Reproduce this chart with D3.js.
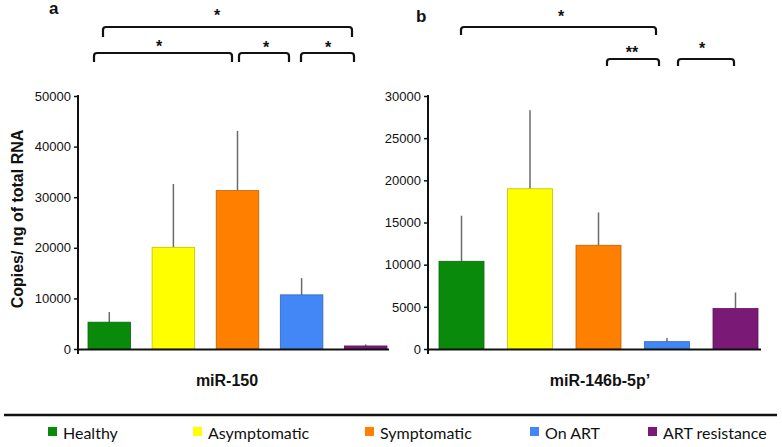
<!DOCTYPE html>
<html><head><meta charset="utf-8">
<script src="https://cdn.jsdelivr.net/npm/d3@7"></script>
<style>body{margin:0;background:#fff}svg{display:block}</style>
</head><body>
<svg id="c" width="782" height="447"></svg>
<script>
const groups = ["Healthy", "Asymptomatic", "Symptomatic", "On ART", "ART resistance"];
const colors = ["#0a8a0a", "#ffff00", "#ff7f00", "#4287f5", "#7a1a76"];
const mir150Mean = [5300, 20100, 31300, 10700, 600];
const mir150Upper = [7300, 32600, 43100, 14000, 900];
const mir146Mean = [10400, 19000, 12300, 870, 4800];
const mir146Upper = [15800, 28300, 16200, 1300, 6700];
const ticks150 = [0, 10000, 20000, 30000, 40000, 50000];
const ticks146 = [0, 5000, 10000, 15000, 20000, 25000, 30000];

const FONT = "'Liberation Sans', Arial, Helvetica, sans-serif";
const svg = d3.select("#c");

function panel(o) {
  const y = d3.scaleLinear().domain([0, o.max]).range([349, 96]);
  const x = d3.scaleBand().domain(groups).range(o.barRange).paddingInner(o.pad).paddingOuter(0);
  const g = svg.append("g");
  g.selectAll(".err").data(groups).join("line")
    .attr("x1", d => x(d) + x.bandwidth() / 2).attr("x2", d => x(d) + x.bandwidth() / 2)
    .attr("y1", (d, i) => y(o.mean[i])).attr("y2", (d, i) => y(o.upper[i]))
    .attr("stroke", "#6b6b6b").attr("stroke-width", 1.5);
  g.selectAll(".bar").data(groups).join("rect")
    .attr("x", d => x(d)).attr("width", x.bandwidth())
    .attr("y", (d, i) => y(o.mean[i])).attr("height", (d, i) => y(0) - y(o.mean[i]))
    .attr("fill", (d, i) => colors[i])
    .attr("stroke", (d, i) => d3.color(colors[i]).darker(0.8)).attr("stroke-width", 0.8);
  const ax = d3.axisLeft(y).tickValues(o.ticks).tickSize(4).tickPadding(3).tickFormat(d3.format("d"));
  const ag = g.append("g").attr("transform", `translate(${o.axisX},0)`).call(ax);
  ag.select(".domain").remove();
  ag.selectAll(".tick line").attr("stroke", "#111").attr("stroke-width", 1.5);
  ag.selectAll("text").style("font-family", FONT)
    .style("font-size", "13px").attr("fill", "#111");
  g.append("line").attr("x1", o.axisX).attr("x2", o.axisX).attr("y1", 95).attr("y2", 354)
    .attr("stroke", "#111").attr("stroke-width", 2);
  g.append("line").attr("x1", o.axisX).attr("x2", o.axisEnd).attr("y1", 349.5).attr("y2", 349.5)
    .attr("stroke", "#111").attr("stroke-width", 2);
  g.append("text").attr("x", o.labelX).attr("y", 386).attr("text-anchor", "middle")
    .style("font-family", FONT).attr("font-weight", "bold")
    .style("font-size", "16px").attr("fill", "#111").text(o.label);
  g.append("text").attr("x", o.letterX).attr("y", o.letterY)
    .style("font-family", FONT).attr("font-weight", "bold")
    .style("font-size", "17px").attr("fill", "#111").text(o.letter);
  o.brackets.forEach(b => {
    const r = 3;
    g.append("path")
      .attr("d", `M${b.x1},${b.yEnd} L${b.x1},${b.y + r} Q${b.x1},${b.y} ${b.x1 + r},${b.y} L${b.x2 - r},${b.y} Q${b.x2},${b.y} ${b.x2},${b.y + r} L${b.x2},${b.yEnd}`)
      .attr("fill", "none").attr("stroke", "#111").attr("stroke-width", 2.2);
    g.append("text").attr("x", b.sx).attr("y", b.sy + 8.5).attr("text-anchor", "middle")
      .style("font-family", FONT).attr("font-weight", "bold")
      .style("font-size", "16px").attr("fill", "#111").text(b.t);
  });
}

panel({max: 50000, mean: mir150Mean, upper: mir150Upper, ticks: ticks150,
  barRange: [88, 387], pad: 0.336, axisX: 78, axisEnd: 389, labelX: 227, label: "miR-150",
  letter: "a", letterX: 49, letterY: 14,
  brackets: [
    {x1: 103, x2: 352, y: 27, yEnd: 37, sx: 217, sy: 12, t: "*"},
    {x1: 94, x2: 232, y: 53, yEnd: 62, sx: 159, sy: 43, t: "*"},
    {x1: 239, x2: 289, y: 53, yEnd: 62, sx: 266, sy: 44, t: "*"},
    {x1: 301, x2: 354, y: 53, yEnd: 62, sx: 328, sy: 44, t: "*"}
  ]});

panel({max: 30000, mean: mir146Mean, upper: mir146Upper, ticks: ticks146,
  barRange: [439, 758], pad: 0.343, axisX: 428, axisEnd: 761, labelX: 600, label: "miR-146b-5p\u2019",
  letter: "b", letterX: 416, letterY: 22,
  brackets: [
    {x1: 461, x2: 656, y: 27, yEnd: 35, sx: 561, sy: 13, t: "*"},
    {x1: 607, x2: 659, y: 59, yEnd: 66, sx: 632, sy: 49, t: "**"},
    {x1: 678, x2: 734, y: 59, yEnd: 66, sx: 702, sy: 45, t: "*"}
  ]});

svg.append("text").attr("transform", "translate(23,219) rotate(-90)").attr("text-anchor", "middle")
  .style("font-family", FONT).attr("font-weight", "bold")
  .style("font-size", "16px").attr("fill", "#111").text("Copies/ ng of total RNA");

svg.append("line").attr("x1", 4).attr("x2", 777).attr("y1", 415).attr("y2", 415)
  .attr("stroke", "#111").attr("stroke-width", 2.5);
const legX = [48, 193, 365, 530, 648];
const lg = svg.append("g").selectAll("g").data(groups).join("g")
  .attr("transform", (d, i) => `translate(${legX[i]},427)`);
lg.append("rect").attr("width", 9).attr("height", 9).attr("fill", (d, i) => colors[i]);
lg.append("text").attr("x", 15).attr("y", 11.5).style("font-family", "Lato, 'Open Sans', sans-serif")
  .style("font-size", "16px").attr("fill", "#111").text(d => d);
</script>
</body></html>
